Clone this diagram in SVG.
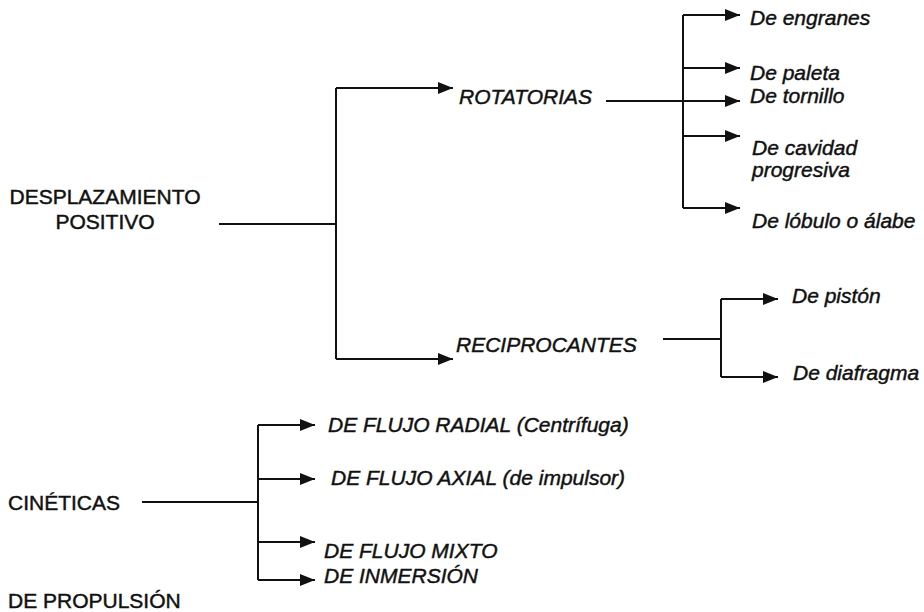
<svg xmlns="http://www.w3.org/2000/svg" width="924" height="612" viewBox="0 0 924 612">
<style>
text{font-family:"Liberation Sans",Arial,sans-serif;font-size:21px;fill:#111;stroke:#111;stroke-width:0.45}
.it{font-style:italic}
.c{fill:none;stroke:#111;stroke-width:2}
.a{marker-end:url(#ah)}
</style>
<defs>
<marker id="ah" markerUnits="userSpaceOnUse" markerWidth="16" markerHeight="13" refX="15" refY="6.5" orient="auto">
<path d="M0,0.5 L15,6.5 L0,12.5 z" fill="#111"/>
</marker>
</defs>
<rect width="924" height="612" fill="#fff"/>
<g id="connectors">
<path class="c" d="M219,224 H336 M336,88 V359"/>
<path class="c a" d="M336,88 H453"/>
<path class="c a" d="M336,359 H453"/>
<path class="c" d="M683,15 V208"/>
<path class="c a" d="M683,15 H740"/>
<path class="c a" d="M683,68 H740"/>
<path class="c a" d="M606,101 H740"/>
<path class="c a" d="M683,136 H740"/>
<path class="c a" d="M683,208 H740"/>
<path class="c" d="M663,339 H721 M721,299 V377"/>
<path class="c a" d="M721,299 H778"/>
<path class="c a" d="M721,377 H778"/>
<path class="c" d="M142,502 H258 M258,425 V580"/>
<path class="c a" d="M258,425 H315"/>
<path class="c a" d="M258,479 H315"/>
<path class="c a" d="M258,542 H315"/>
<path class="c a" d="M258,580 H315"/>
</g>
<g id="desplazamiento"><text x="105" y="204" text-anchor="middle">DESPLAZAMIENTO</text><text x="105" y="229" text-anchor="middle">POSITIVO</text></g>
<g id="rotatorias"><text class="it" x="459" y="104">ROTATORIAS</text></g>
<g id="reciprocantes"><text class="it" x="456" y="352">RECIPROCANTES</text></g>
<g id="engranes"><text class="it" x="750" y="25">De engranes</text></g>
<g id="paleta"><text class="it" x="750" y="80">De paleta</text></g>
<g id="tornillo"><text class="it" x="750" y="103">De tornillo</text></g>
<g id="cavidad"><text class="it" x="752" y="155">De cavidad</text><text class="it" x="752" y="177">progresiva</text></g>
<g id="lobulo"><text class="it" x="752" y="228">De lóbulo o álabe</text></g>
<g id="piston"><text class="it" x="792" y="303">De pistón</text></g>
<g id="diafragma"><text class="it" x="793" y="380">De diafragma</text></g>
<g id="cineticas"><text x="8" y="510">CINÉTICAS</text></g>
<g id="radial"><text class="it" x="328" y="432">DE FLUJO RADIAL (Centrífuga)</text></g>
<g id="axial"><text class="it" x="331" y="485">DE FLUJO AXIAL (de impulsor)</text></g>
<g id="mixto"><text class="it" x="324" y="558">DE FLUJO MIXTO</text></g>
<g id="inmersion"><text class="it" x="324" y="583">DE INMERSIÓN</text></g>
<g id="propulsion"><text x="8" y="608">DE PROPULSIÓN</text></g>
</svg>
